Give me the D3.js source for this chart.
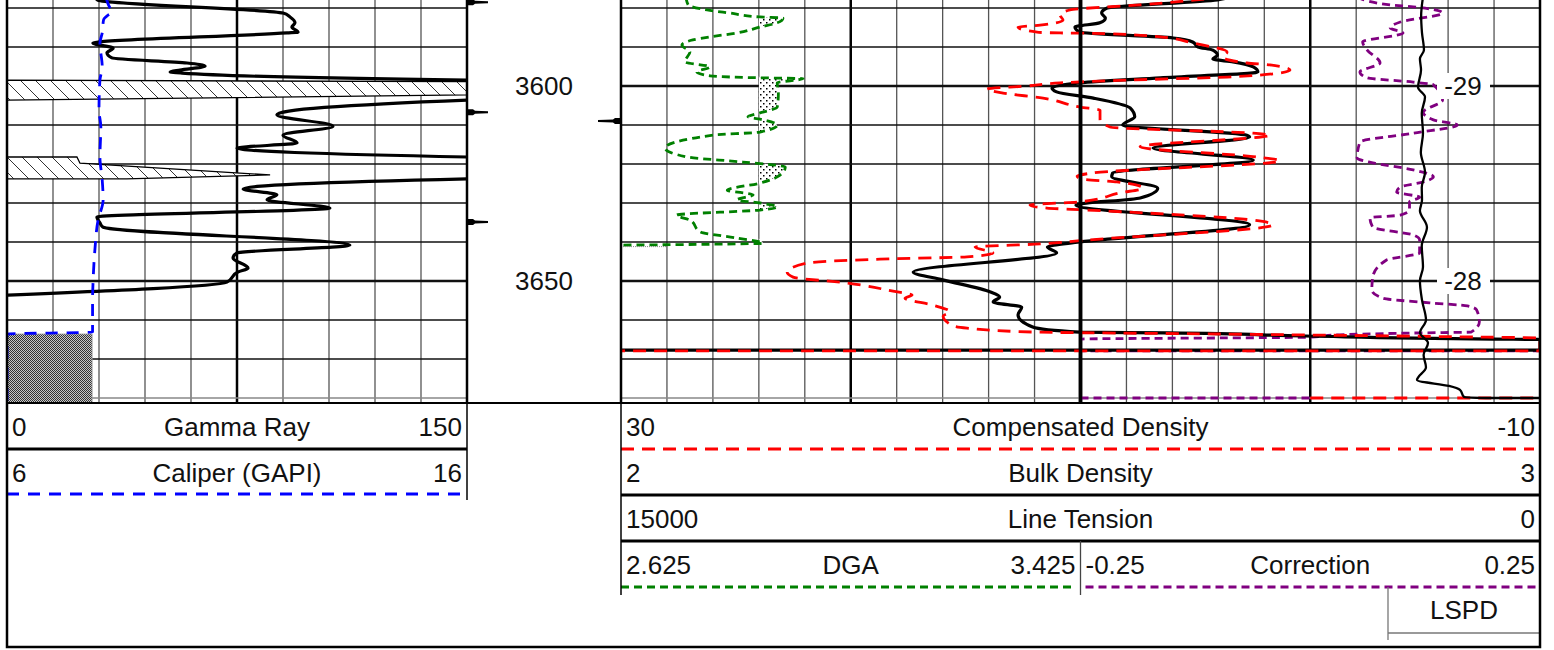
<!DOCTYPE html>
<html>
<head>
<meta charset="utf-8">
<script src="https://cdn.jsdelivr.net/npm/d3@7"></script>
<style>
  body { margin: 0; background: #fff; }
  svg { display: block; font-family: "Liberation Sans", Arial, sans-serif; }
</style>
</head>
<body>
<div class="log"></div>
<script>
// ---- data (depth, value) ----
const gammaRay = [[3577.2,28.7],[3578.0,29.7],[3581.3,90.0],[3582.3,92.3],[3583.8,93.9],[3584.9,92.9],[3586.2,94.9],[3586.4,91.3],[3588.7,30.3],[3589.0,28.0],[3590.3,34.6],[3591.5,32.6],[3592.8,34.2],[3594.1,58.7],[3594.9,64.6],[3595.9,56.4],[3596.4,53.2],[3596.7,57.1],[3598.5,150],[3598.9,300],[3602.3,300],[3603.6,150],[3607.4,88.0],[3610.3,106.3],[3612.6,90.0],[3614.6,94.6],[3615.9,75.0],[3618.2,150],[3618.2,172.8],[3619.8,173.8],[3622.8,235.8],[3623.8,189],[3623.8,150],[3626.4,77.0],[3627.9,88.0],[3629.2,84.8],[3631.3,105.3],[3633.6,29.3],[3635.1,30.3],[3636.2,31.3],[3640.8,111.8],[3642.8,75.0],[3644.1,73.7],[3646.7,78.6],[3647.7,75.3],[3650.3,71.7],[3653.6,0.3]];

const caliper = [[3577.2,8.15],[3580.0,8.24],[3581.0,8.30],[3581.8,8.2],[3583,8.1],[3586.4,8.07],[3589.0,8.02],[3595.1,8.07],[3598.5,8.02],[3606.2,8.0],[3610.5,8.04],[3618.2,8.02],[3624.1,8.07],[3629.2,8.09],[3634.4,7.98],[3642.1,7.91],[3650.5,7.87],[3654.9,7.86],[3663.1,7.86],[3663.6,6.0],[3682,6.0]];
const bitSize = 7.85;

const compDensity = [[3577.2,3.71],[3579.2,7.41],[3580.5,10.46],[3581.8,10.89],[3583.1,10.76],[3584.4,11.76],[3584.9,12.72],[3586.2,11.89],[3586.4,10.89],[3586.5,9.46],[3587.4,6.54],[3589.0,5.10],[3591.3,3.62],[3592.6,3.80],[3594.1,2.75],[3594.6,1.75],[3595.9,0.88],[3597.2,2.19],[3597.7,3.62],[3598.5,7.98],[3599.2,10.89],[3600.0,12.33],[3600.8,14.07],[3601.8,13.37],[3603.1,11.63],[3605.4,10.02],[3606.2,9.15],[3608.7,9.15],[3610.5,8.72],[3612.1,2.49],[3612.6,1.75],[3615.6,7.41],[3618.2,2.32],[3619.2,1.32],[3622.3,9.46],[3623.1,10.15],[3623.8,10.02],[3624.6,8.41],[3626.2,7.28],[3627.4,8.28],[3629.7,10.02],[3630.5,12.20],[3631.3,11.46],[3631.8,9.72],[3634.4,2.49],[3635.6,1.62],[3639.5,9.72],[3640.5,11.76],[3641.3,14.59],[3642.8,13.81],[3643.8,14.94],[3644.4,18.73],[3645.4,21.90],[3647.7,22.77],[3649.0,22.51],[3650.5,20.16],[3652.6,18.16],[3653.6,17.33],[3654.4,17.64],[3656.2,16.42],[3657.9,15.68],[3659.0,15.98],[3661.5,15.55],[3662.1,14.94],[3663.1,11.98],[3663.6,3.80],[3664.4,-7.65],[3664.6,-10],[3667.9,-10],[3667.9,30],[3672,null],[3680,0],[3680,-10]];

const bulkDensity = [[3577.2,2.663],[3577.9,2.649],[3580.0,2.529],[3581.3,2.523],[3582.6,2.527],[3583.8,2.521],[3584.9,2.494],[3586.2,2.499],[3587.7,2.601],[3588.7,2.622],[3590.0,2.628],[3590.8,2.644],[3592.1,2.649],[3593.1,2.644],[3593.8,2.666],[3595.1,2.688],[3596.4,2.693],[3597.9,2.587],[3599.2,2.499],[3600.5,2.469],[3601.5,2.474],[3603.1,2.514],[3605.6,2.554],[3607.9,2.559],[3610.0,2.546],[3612.6,2.681],[3613.1,2.684],[3615.9,2.579],[3619.0,2.688],[3622.3,2.535],[3623.3,2.534],[3626.2,2.584],[3628.7,2.565],[3630.5,2.495],[3635.6,2.684],[3640.0,2.499],[3641.3,2.464],[3642.8,2.474],[3647.7,2.318],[3649.7,2.350],[3652.8,2.402],[3654.1,2.412],[3655.4,2.405],[3656.7,2.436],[3658.7,2.432],[3661.8,2.448],[3663.1,2.499],[3663.3,2.594],[3664.1,2.745],[3664.9,2.950],[3665.0,3.0],[3667.7,3.0],[3667.7,2.0],[3672,null]];

const lineTension = [[3577.2,1910],[3582,1940],[3586.4,1926],[3590.8,1894],[3593,1960],[3595.9,1942],[3600.3,1991],[3602.8,1877],[3607,1930],[3612.1,1910],[3617,1945],[3622.1,1877],[3626,1930],[3629.2,1926],[3632,1960],[3636.2,1845],[3641,1930],[3646.4,1910],[3650,1960],[3654.9,1926],[3660.0,1861],[3663.3,1959],[3665.9,1828],[3669,1900],[3672.1,1861],[3675.4,2008],[3676.9,1485],[3677.9,1306],[3679.7,1241],[3680.0,881],[3680.0,0]];

const dga = [[3577.2,2.738],[3579.2,2.742],[3580.5,2.775],[3581.3,2.815],[3582.3,2.867],[3582.6,2.907],[3583.8,2.897],[3584.9,2.867],[3586.4,2.827],[3587.4,2.780],[3588.2,2.750],[3589.5,2.731],[3591.3,2.745],[3593.8,2.736],[3595.1,2.780],[3596.4,2.757],[3597.4,2.780],[3597.9,2.867],[3598.1,2.942],[3599.2,2.897],[3602,2.899],[3605.4,2.897],[3606.9,2.867],[3607.9,2.846],[3608.5,2.867],[3610.0,2.897],[3611.8,2.867],[3612.6,2.785],[3615.9,2.702],[3618.2,2.740],[3619.5,2.837],[3620.8,2.911],[3623.3,2.897],[3624.9,2.867],[3626.7,2.810],[3627.9,2.855],[3629.2,2.827],[3630.0,2.867],[3631.0,2.897],[3631.8,2.867],[3633.1,2.722],[3634.4,2.745],[3637.4,2.763],[3639.0,2.827],[3640.3,2.872],[3640.8,2.625]];
const sandCutoff = 2.865;

const correction = [[3577.2,0.051],[3579.2,0.087],[3579.7,0.112],[3581.3,0.144],[3583.6,0.098],[3585.1,0.087],[3586.4,0.101],[3588.7,0.057],[3590.8,0.062],[3594.1,0.076],[3596.4,0.054],[3597.9,0.062],[3599.0,0.112],[3599.7,0.134],[3603.6,0.144],[3606.7,0.123],[3608.7,0.134],[3610.0,0.160],[3612.1,0.112],[3614.4,0.054],[3618.5,0.051],[3619.7,0.068],[3621.5,0.112],[3623.3,0.134],[3624.6,0.123],[3625.9,0.098],[3627.2,0.094],[3628.5,0.119],[3629.7,0.108],[3631.8,0.108],[3633.1,0.098],[3633.8,0.065],[3636.2,0.068],[3638.2,0.112],[3639.5,0.119],[3642.8,0.119],[3644.6,0.083],[3649.0,0.068],[3652.3,0.067],[3654.4,0.079],[3655.6,0.130],[3656.4,0.171],[3657.4,0.181],[3660.5,0.184],[3663.1,0.175],[3663.3,0.121],[3663.8,0.032],[3664.4,0.0],[3664.9,-0.25],[3667.9,-0.25],[3667.9,0.25],[3672,null],[3680,-0.25],[3680,0]];

// depth labels, the second label column and tick marks in the depth track
const depthLabels = [3600, 3650];
const lspdLabels = ["-29", "-28"];
const leftMarks = [3578.5, 3606.7, 3634.9];
const rightMarks = [3609.0];

// header texts
const leftNames = ["Gamma Ray", "Caliper (GAPI)"];
const leftLo = ["0", "6"];
const leftHi = ["150", "16"];
const rightNames = ["Compensated Density", "Bulk Density", "Line Tension"];
const rightLo = ["30", "2", "15000"];
const rightHi = ["-10", "3", "0"];
const splitNames = ["DGA", "Correction"];
const splitLo = ["2.625", "-0.25"];
const splitHi = ["3.425", "0.25"];

// ---- layout ----
const W = 1554, H = 650;
const L0 = 7, L1 = 467, R0 = 621, R1 = 1540, RM = 1080.5;
const plotBottom = 403;
const fontSize = 26;

const y = d3.scaleLinear().domain([3600, 3650]).range([86, 281]);
const xGR = d3.scaleLinear().domain([0, 150]).range([L0, L1]);
const xCal = d3.scaleLinear().domain([6, 16]).range([L0, L1]);
const xCD = d3.scaleLinear().domain([30, -10]).range([R0, R1]);
const xBD = d3.scaleLinear().domain([2, 3]).range([R0, R1]);
const xLT = d3.scaleLinear().domain([15000, 0]).range([R0, R1]);
const xDGA = d3.scaleLinear().domain([2.625, 3.425]).range([R0, RM]);
const xCorr = d3.scaleLinear().domain([-0.25, 0.25]).range([RM, R1]);

const svg = d3.select(".log").append("svg")
  .attr("width", W).attr("height", H);

const defs = svg.append("defs");
defs.append("clipPath").attr("id", "clipL")
  .append("rect").attr("x", L0).attr("y", -10).attr("width", L1 - L0).attr("height", plotBottom + 10);
defs.append("clipPath").attr("id", "clipR")
  .append("rect").attr("x", R0).attr("y", -10).attr("width", R1 - R0).attr("height", plotBottom + 10);

// hatch for the wrapped gamma ray
const hatch = defs.append("pattern").attr("id", "hatch")
  .attr("patternUnits", "userSpaceOnUse").attr("width", 15).attr("height", 15);
hatch.append("rect").attr("width", 15).attr("height", 15).attr("fill", "#fff");
hatch.append("path").attr("d", "M0,0 L15,15 M-4,11 L4,19 M11,-4 L19,4")
  .attr("stroke", "#000").attr("stroke-width", 0.8);

// sand dots for DGA
const sand = defs.append("pattern").attr("id", "sand")
  .attr("patternUnits", "userSpaceOnUse").attr("width", 6).attr("height", 6);
sand.append("rect").attr("width", 6).attr("height", 6).attr("fill", "#fff");
sand.append("rect").attr("x", 1).attr("y", 1).attr("width", 1.5).attr("height", 1.5).attr("fill", "#000");
sand.append("rect").attr("x", 4).attr("y", 4).attr("width", 1.5).attr("height", 1.5).attr("fill", "#000");

// grey checker below bit size
const checker = defs.append("pattern").attr("id", "checker")
  .attr("patternUnits", "userSpaceOnUse").attr("width", 2).attr("height", 2);
checker.append("rect").attr("width", 2).attr("height", 2).attr("fill", "#c8c8c8");
checker.append("rect").attr("width", 1).attr("height", 1).attr("fill", "#333");
checker.append("rect").attr("x", 1).attr("y", 1).attr("width", 1).attr("height", 1).attr("fill", "#333");

// ---- grid ----
const grid = svg.append("g");
const depthLines = d3.range(3580, 3681, 10);

function drawGrid(x0, x1, n, heavy) {
  const gx = d3.scaleLinear().domain([0, n]).range([x0, x1]);
  grid.selectAll(null).data(d3.range(1, n)).enter().append("line")
    .attr("x1", d => gx(d)).attr("x2", d => gx(d))
    .attr("y1", -5).attr("y2", plotBottom)
    .attr("stroke", d => heavy.includes(d) ? "#000" : "#555")
    .attr("stroke-width", d => d === n / 2 && n === 20 ? 3.5 : heavy.includes(d) ? 2.5 : 1.3);
  grid.selectAll(null).data(depthLines).enter().append("line")
    .attr("x1", x0).attr("x2", x1)
    .attr("y1", d => y(d)).attr("y2", d => y(d))
    .attr("stroke", d => d === 3680 ? "#888" : "#111")
    .attr("stroke-width", d => d % 50 === 0 ? 2.5 : 1.3);
}
drawGrid(L0, L1, 10, [5]);
drawGrid(R0, R1, 20, [5, 10, 15]);

// ---- helpers ----
function runs(data, test) {
  const out = [];
  let cur = [];
  data.forEach(d => {
    if (d[1] != null && test(d[1])) cur.push(d);
    else { if (cur.length) out.push(cur); cur = []; }
  });
  if (cur.length) out.push(cur);
  return out;
}

// depth only ever increases, so a monotone curve in y smooths without overshoot
const smooth = d3.curveMonotoneY;

function curve(g, data, xs, color, width, dash) {
  g.append("path").datum(data)
    .attr("d", d3.line().defined(d => d[1] != null).curve(smooth).x(d => xs(d[1])).y(d => y(d[0])))
    .attr("fill", "none").attr("stroke", color)
    .attr("stroke-width", width).attr("stroke-dasharray", dash)
    .attr("stroke-linejoin", "round");
}

// ---- left track ----
const gl = svg.append("g").attr("clip-path", "url(#clipL)");

// wrapped GR (backup) fill
runs(gammaRay, v => v >= 150).forEach(seg => {
  gl.append("path").datum(seg)
    .attr("d", d3.area().y(d => y(d[0])).x0(xGR(0)).x1(d => xGR(d[1] - 150)))
    .attr("fill", "url(#hatch)").attr("stroke", "#000").attr("stroke-width", 1.3);
});

// caliper below bit size
runs(caliper, v => v < bitSize).forEach(seg => {
  gl.append("path").datum(seg)
    .attr("d", d3.area().y(d => y(d[0])).x0(d => xCal(d[1])).x1(xCal(bitSize)))
    .attr("fill", "url(#checker)").attr("stroke", "#999").attr("stroke-width", 0.8);
});

curve(gl, gammaRay, xGR, "#000", 3.2, null);
curve(gl, caliper, xCal, "#0000ff", 2.8, "12,9");

// ---- right track ----
const gr = svg.append("g").attr("clip-path", "url(#clipR)");

gr.append("path").datum(dga)
  .attr("d", d3.area().curve(smooth).y(d => y(d[0])).x0(xDGA(sandCutoff)).x1(d => xDGA(Math.max(d[1], sandCutoff))))
  .attr("fill", "url(#sand)");

curve(gr, dga, xDGA, "#008000", 2.8, "8,5");
curve(gr, correction, xCorr, "#800080", 2.8, "8,5");
curve(gr, bulkDensity, xBD, "#000", 3.2, null);
curve(gr, compDensity, xCD, "#ff0000", 2.8, "13,8");
curve(gr, lineTension, xLT, "#000", 2.3, null);

// thin dotted tail where DGA leaves the track
gr.append("line")
  .attr("x1", R0).attr("x2", R0 + 46)
  .attr("y1", y(3640.8) + 1.5).attr("y2", y(3640.8) + 1.5)
  .attr("stroke", "#888").attr("stroke-width", 1).attr("stroke-dasharray", "1,1");

// ---- track borders ----
const borders = svg.append("g").attr("stroke", "#000");
[L1, R0].forEach(x => borders.append("line")
  .attr("x1", x).attr("x2", x).attr("y1", -5).attr("y2", plotBottom).attr("stroke-width", 2.5));
borders.append("line").attr("x1", RM).attr("x2", RM).attr("y1", -5).attr("y2", plotBottom).attr("stroke-width", 3.5);
borders.append("line").attr("x1", L0).attr("x2", R1).attr("y1", plotBottom).attr("y2", plotBottom).attr("stroke-width", 2);

// ---- depth track ----
const gd = svg.append("g");
gd.selectAll(null).data(depthLabels).enter().append("text")
  .attr("x", (L1 + R0) / 2).attr("y", d => y(d) + 9)
  .attr("text-anchor", "middle").attr("font-size", fontSize).attr("fill", "#111")
  .text(d => d);

gd.selectAll(null).data(leftMarks).enter().append("path")
  .attr("d", d => {
    const yy = y(d);
    return `M${L1},${yy - 3} L${L1 + 6},${yy - 3} L${L1 + 8},${yy - 1.5} L${L1 + 21},${yy - 1} L${L1 + 21},${yy + 1} L${L1 + 8},${yy + 1.5} L${L1 + 6},${yy + 3} L${L1},${yy + 3} Z`;
  })
  .attr("fill", "#000");
gd.selectAll(null).data(rightMarks).enter().append("path")
  .attr("d", d => {
    const yy = y(d);
    return `M${R0},${yy - 3} L${R0 - 6},${yy - 3} L${R0 - 8},${yy - 1.5} L${R0 - 23},${yy - 1} L${R0 - 23},${yy + 1} L${R0 - 8},${yy + 1.5} L${R0 - 6},${yy + 3} L${R0},${yy + 3} Z`;
  })
  .attr("fill", "#000");

// labels inside the right track
const lx = 1463;
const lab = svg.append("g");
lab.selectAll(null).data(depthLabels).enter().append("rect")
  .attr("x", lx - 26).attr("y", d => y(d) - 13).attr("width", 53).attr("height", 26)
  .attr("fill", "#fff");
lab.selectAll(null).data(depthLabels).enter().append("text")
  .attr("x", lx).attr("y", d => y(d) + 9)
  .attr("text-anchor", "middle").attr("font-size", fontSize).attr("fill", "#111")
  .text((d, i) => lspdLabels[i]);

// ---- headers ----
const hd = svg.append("g").attr("font-size", fontSize).attr("fill", "#111");
const rowH = 46;

function headerRow(x0, x1, top, lo, name, hi) {
  hd.append("text").attr("x", x0 + 5).attr("y", top + 33).text(lo);
  hd.append("text").attr("x", (x0 + x1) / 2).attr("y", top + 33).attr("text-anchor", "middle").text(name);
  hd.append("text").attr("x", x1 - 5).attr("y", top + 33).attr("text-anchor", "end").text(hi);
}
function sample(x0, x1, yy, color, width, dash) {
  svg.append("line").attr("x1", x0).attr("x2", x1).attr("y1", yy).attr("y2", yy)
    .attr("stroke", color).attr("stroke-width", width).attr("stroke-dasharray", dash);
}

leftNames.forEach((n, i) => headerRow(L0, L1, plotBottom + i * rowH, leftLo[i], n, leftHi[i]));
sample(L0, L1, plotBottom + rowH, "#000", 3, null);
sample(L0, L1, plotBottom + 2 * rowH - 1, "#0000ff", 2.8, "12,9");
svg.append("line").attr("x1", L1).attr("x2", L1).attr("y1", plotBottom).attr("y2", plotBottom + 2 * rowH + 5)
  .attr("stroke", "#000").attr("stroke-width", 1.5);

rightNames.forEach((n, i) => headerRow(R0, R1, plotBottom + i * rowH, rightLo[i], n, rightHi[i]));
headerRow(R0, RM, plotBottom + 3 * rowH, splitLo[0], splitNames[0], splitHi[0]);
headerRow(RM, R1, plotBottom + 3 * rowH, splitLo[1], splitNames[1], splitHi[1]);
sample(R0, R1 - 6, plotBottom + rowH, "#ff0000", 2.8, "13,8");
sample(R0, R1, plotBottom + 2 * rowH, "#000", 3, null);
sample(R0, R1, plotBottom + 3 * rowH, "#000", 3, null);
sample(R0, RM - 5, plotBottom + 4 * rowH, "#008000", 2.8, "8,5");
sample(RM + 5, R1, plotBottom + 4 * rowH, "#800080", 2.8, "8,5");
svg.append("line").attr("x1", R0).attr("x2", R0).attr("y1", plotBottom).attr("y2", plotBottom + 4 * rowH + 8)
  .attr("stroke", "#000").attr("stroke-width", 1.5);
svg.append("line").attr("x1", RM).attr("x2", RM).attr("y1", plotBottom + 3 * rowH).attr("y2", plotBottom + 4 * rowH + 8)
  .attr("stroke", "#444").attr("stroke-width", 1.3);

// LSPD box
const lb = 1388;
svg.append("line").attr("x1", lb).attr("x2", lb).attr("y1", plotBottom + 4 * rowH).attr("y2", 640)
  .attr("stroke", "#777").attr("stroke-width", 1.3);
svg.append("line").attr("x1", lb).attr("x2", R1).attr("y1", plotBottom + 5 * rowH).attr("y2", plotBottom + 5 * rowH)
  .attr("stroke", "#777").attr("stroke-width", 1.3);
hd.append("text").attr("x", (lb + R1) / 2).attr("y", plotBottom + 4 * rowH + 32)
  .attr("text-anchor", "middle").text("LSPD");

// outer frame
svg.append("path")
  .attr("d", `M${L0},-5 L${L0},647 L${R1},647 L${R1},-5`)
  .attr("fill", "none").attr("stroke", "#000").attr("stroke-width", 2.5);
</script>
</body>
</html>
